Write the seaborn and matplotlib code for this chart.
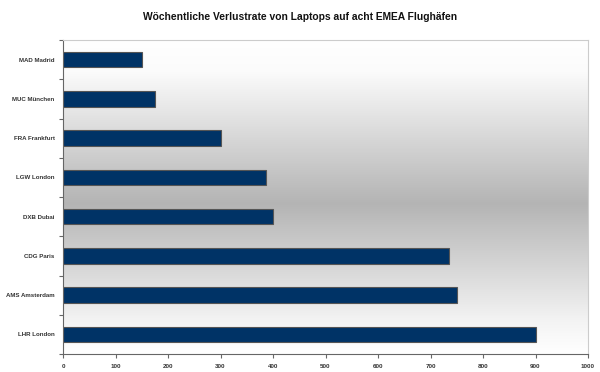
import numpy as np
import pandas as pd
import seaborn as sns
import matplotlib
matplotlib.use("Agg")
import matplotlib.pyplot as plt
from matplotlib.colors import LinearSegmentedColormap

airports = ["MAD Madrid", "MUC München", "FRA Frankfurt", "LGW London",
            "DXB Dubai", "CDG Paris", "AMS Amsterdam", "LHR London"]
losses = [150, 175, 300, 386, 400, 735, 750, 900]
x_ticks = [0, 100, 200, 300, 400, 500, 600, 700, 800, 900, 1000]
title = "Wöchentliche Verlustrate von Laptops auf acht EMEA Flughäfen"

sns.set_theme(style="white")
plt.rcParams['font.family'] = ['Liberation Sans', 'DejaVu Sans']

df = pd.DataFrame({"airport": airports, "loss": losses})

fig = plt.figure(figsize=(6, 3.72), dpi=100)
ax = fig.add_axes([63/600, 1-354/372, (588-63)/600, (354-40)/372])

# gradient background
grad = LinearSegmentedColormap.from_list(
    "bg", [(0, "#ffffff"), (0.1, "#fbfbfb"), (0.52, "#b4b4b4"), (0.9, "#f4f4f4"), (1, "#ffffff")])
g = np.linspace(0, 1, 256).reshape(-1, 1)
ax.imshow(g, aspect="auto", cmap=grad, extent=[0, 1, 0, 1],
          transform=ax.transAxes, zorder=0)

sns.barplot(data=df, y="airport", x="loss", orient="h", color="#003366",
            width=0.4, edgecolor="#555555", linewidth=0.8, saturation=1,
            ax=ax, zorder=2)

ax.set_xlim(0, 1000)
ax.set_ylim(len(airports) - 0.5, -0.5)
ax.set_xticks(x_ticks)
ax.set_xticklabels([str(t) for t in x_ticks], fontsize=4.5, fontweight="bold", color="#333333")
ax.set_yticks(range(len(airports)))
ax.set_yticklabels(airports, fontsize=4.4, fontweight="bold", color="#333333")
ax.set_yticks(np.arange(-0.5, len(airports), 1), minor=True)
ax.tick_params(axis="y", which="major", length=0, pad=6)
ax.tick_params(axis="y", which="minor", length=3, width=0.8, color="#666666", left=True)
ax.tick_params(axis="x", which="major", length=3, width=0.8, color="#666666", bottom=True, pad=4)
ax.set_xlabel("")
ax.set_ylabel("")

for side in ["top", "right"]:
    ax.spines[side].set_color("#cccccc")
    ax.spines[side].set_linewidth(0.8)
for side in ["left", "bottom"]:
    ax.spines[side].set_color("#666666")
    ax.spines[side].set_linewidth(0.8)

fig.text(0.5, 1 - 17/372, title, ha="center", va="center",
         fontsize=7.4, fontweight="bold", color="#111111")

fig.savefig("out.png", dpi=100)
